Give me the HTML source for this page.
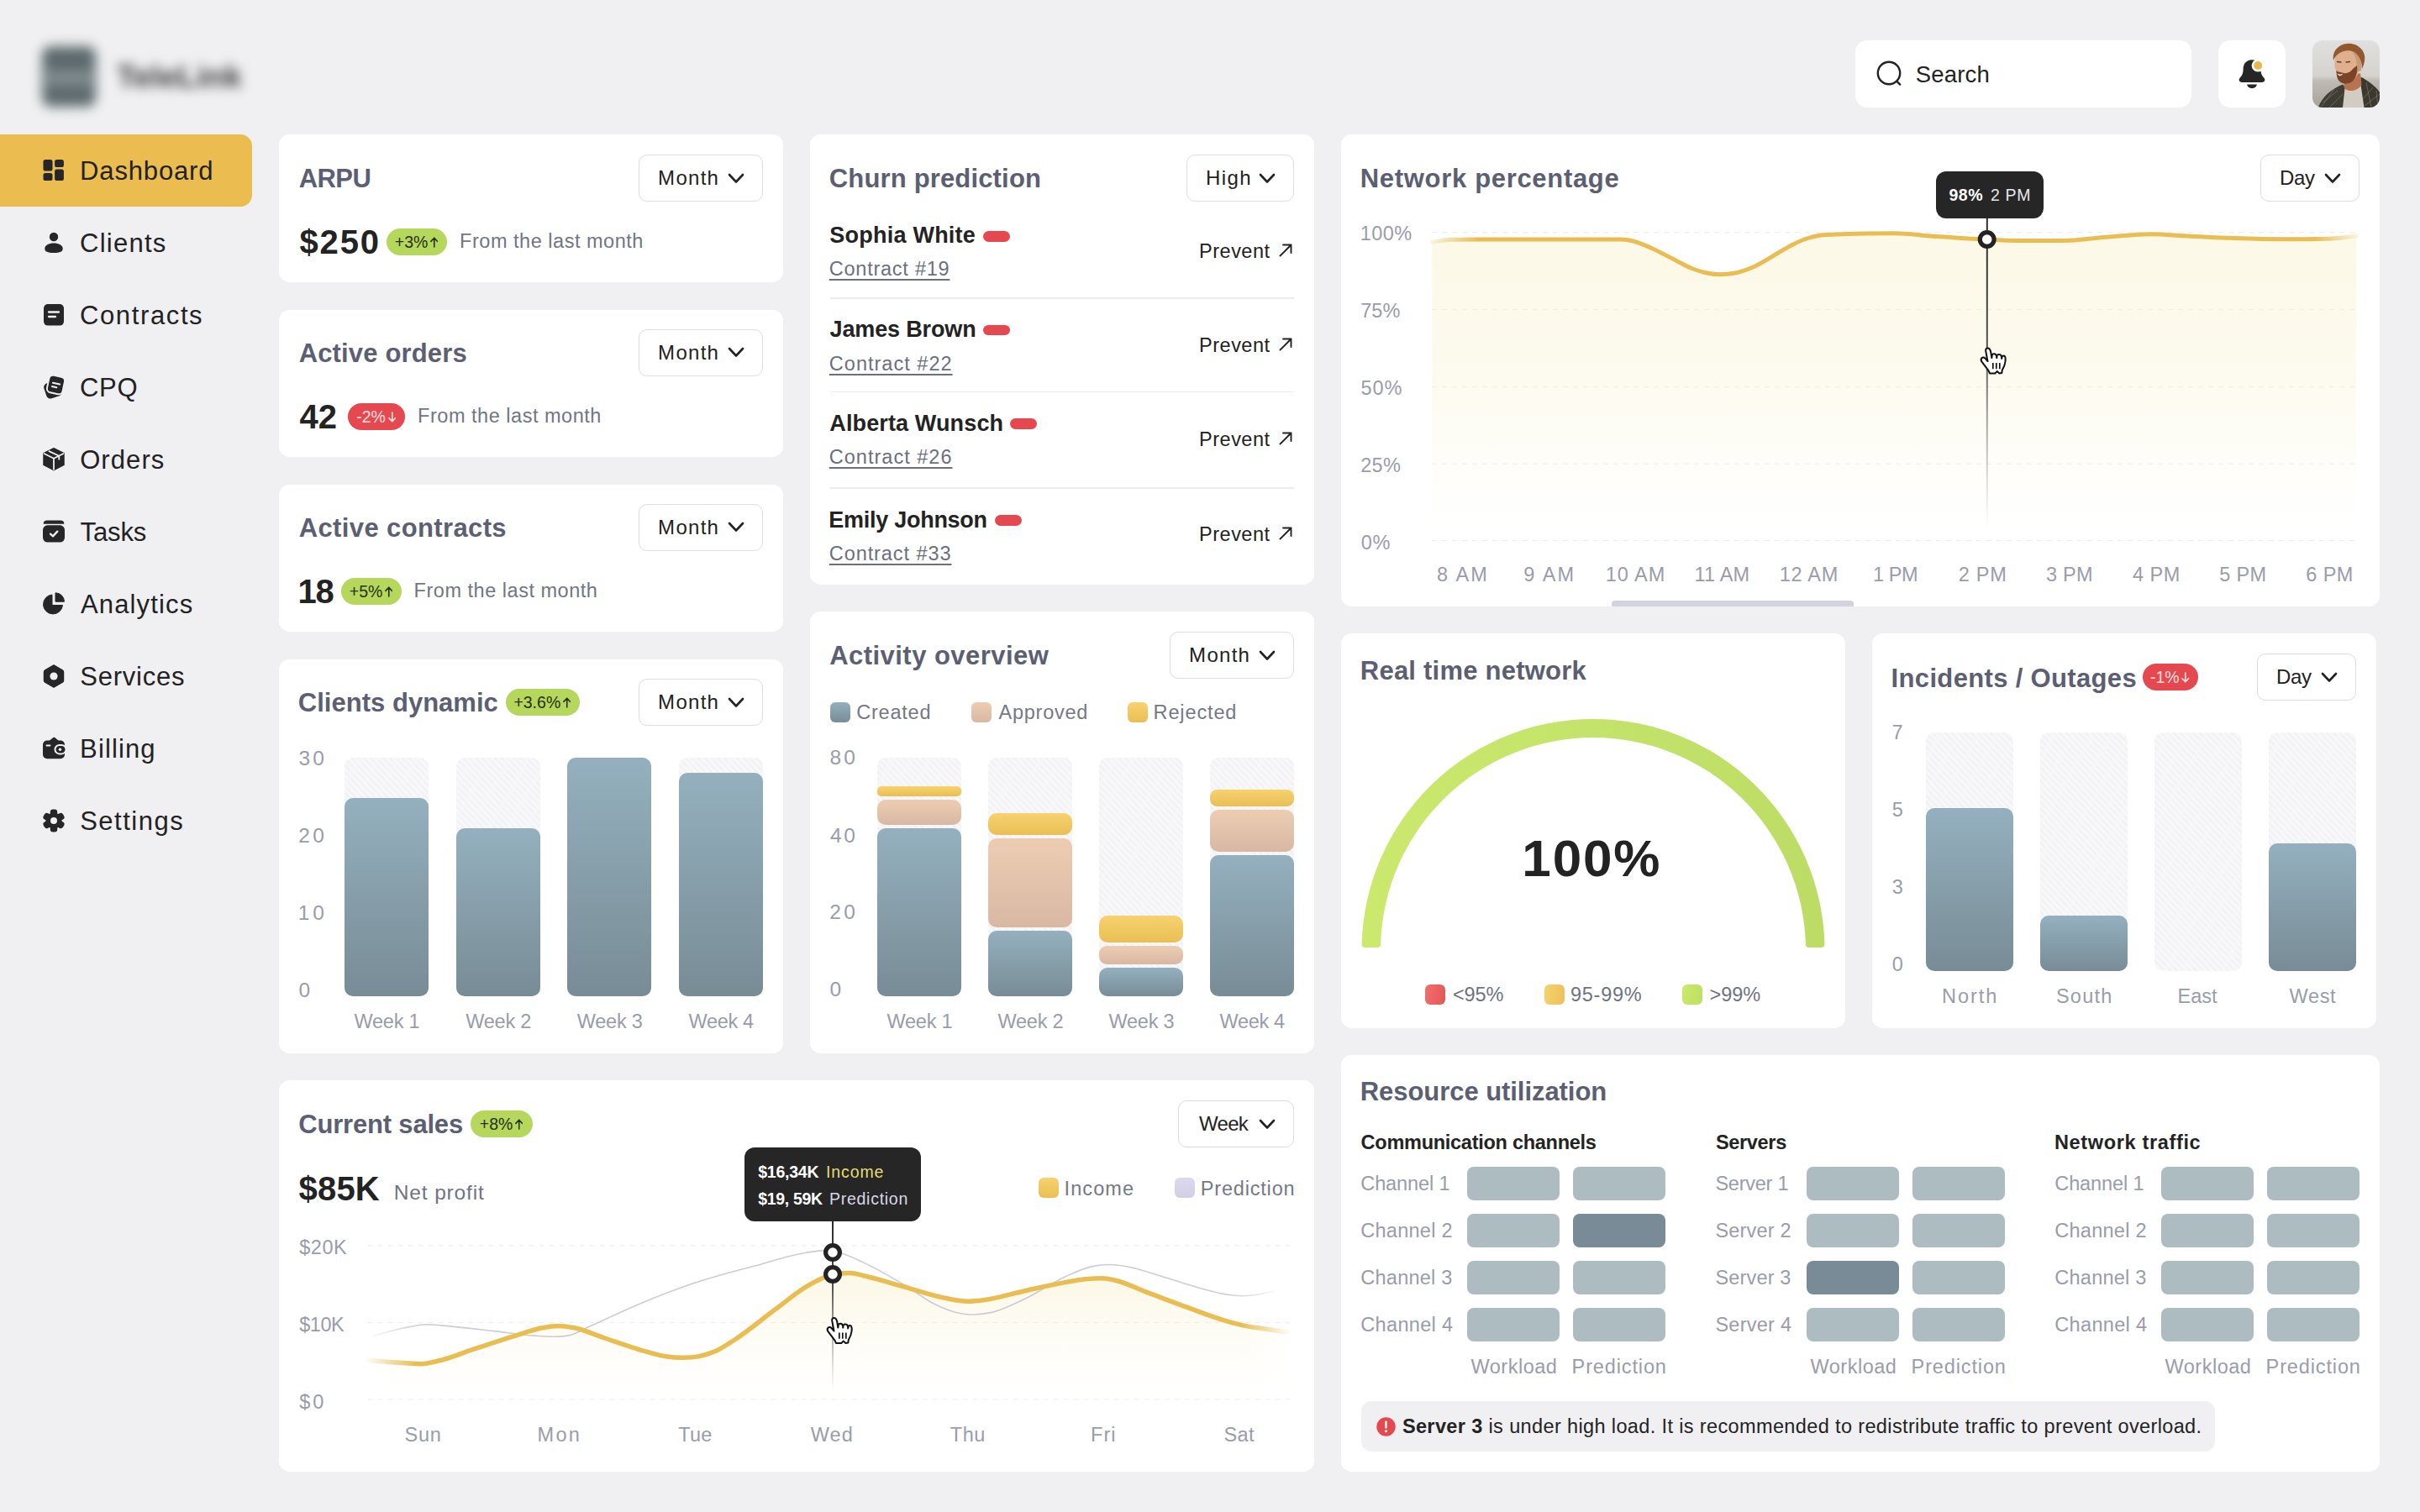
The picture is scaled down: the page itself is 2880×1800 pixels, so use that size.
<!DOCTYPE html>
<html lang="en"><head><meta charset="utf-8"><title>Dashboard</title>
<style>
html,body{margin:0;padding:0}
body{width:2880px;height:1800px;background:#f0f0f2;position:relative;overflow:hidden;font-family:"Liberation Sans",sans-serif;}
.t{position:absolute;line-height:1;white-space:nowrap;}
svg{display:block}
</style></head><body>
<svg width="0" height="0" style="position:absolute"><defs>
<linearGradient id="gBlue" x1="0" y1="0" x2="0" y2="1"><stop offset="0" stop-color="#94b0be"/><stop offset="1" stop-color="#788c96"/></linearGradient>
</defs></svg>
<div style="position:absolute;left:40px;top:44px;width:84px;height:92px;filter:blur(7px)"><div style="position:absolute;left:9px;top:10px;width:66px;height:74px;border-radius:12px;background:#7f8a8d"></div><div style="position:absolute;left:13px;top:15px;width:58px;height:24px;border-radius:6px;background:#5c686c"></div><div style="position:absolute;left:13px;top:58px;width:58px;height:22px;border-radius:6px;background:#5e6a6e"></div></div>
<div class="t" style="left:139px;top:72.5px;font-size:37px;font-weight:700;color:#3a3a3e;filter:blur(7px);letter-spacing:0.2px;padding:14px;margin:-14px">TeleLink</div>
<div style="position:absolute;left:2208.0px;top:48.0px;width:400.0px;height:80.0px;background:#fff;border-radius:14px;"></div>
<svg style="position:absolute;left:2230px;top:69px" width="38" height="38" viewBox="0 0 38 38"><circle cx="18" cy="18" r="13.2" fill="none" stroke="#222" stroke-width="2.4"/><path d="M27.3 27.6 L31.2 31.6" stroke="#222" stroke-width="2.4" stroke-linecap="round"/></svg>
<div class="t" style="left:2279.8px;top:74.7px;font-size:27.5px;color:#222;letter-spacing:0.17px;">Search</div>
<div style="position:absolute;left:2640.0px;top:48.0px;width:80.0px;height:80.0px;background:#fff;border-radius:14px;"></div>
<svg style="position:absolute;left:2660px;top:66px" width="40" height="44" viewBox="0 0 40 44">
<path d="M20 5.2 C12.5 5.2 9.6 11 9.6 16.5 C9.6 21.5 8 24 5.6 26.8 C3.6 29.2 5 32 8.2 32 L31.8 32 C35 32 36.4 29.2 34.4 26.8 C32 24 30.4 21.5 30.4 16.5 C30.4 11 27.5 5.2 20 5.2 Z" fill="#262626"/>
<path d="M14 34.6 L26 34.6 Q24.6 39.2 20 39.2 Q15.4 39.2 14 34.6 Z" fill="#262626"/>
<circle cx="27.2" cy="12" r="7.6" fill="#fff"/><circle cx="27.2" cy="12" r="5" fill="#e6b94a"/></svg>
<svg style="position:absolute;left:2752px;top:48px" width="80" height="80" viewBox="0 0 80 80">
<defs><clipPath id="avc"><rect width="80" height="80" rx="12"/></clipPath>
<linearGradient id="avbg" x1="0" y1="0" x2="0" y2="1"><stop offset="0" stop-color="#dfe0df"/><stop offset="0.53" stop-color="#d6d3ce"/><stop offset="0.6" stop-color="#bfbbb5"/><stop offset="1" stop-color="#a9a398"/></linearGradient></defs>
<g clip-path="url(#avc)"><rect width="80" height="80" fill="url(#avbg)"/>
<path d="M7 80 C11 68 22 58 36 52.500 L41 58 L37 80 Z" fill="#403d34"/>
<path d="M57.500 43.500 C66 48 78 56 82 66 L82 80 L60 80 L56 56 Z" fill="#3b392f"/>
<path d="M36 80 L38.500 57 C44 62 52 60 57.500 53 L61.500 80 Z" fill="#d3ccc2"/>
<path d="M37 45 L57 39 L58.500 53.500 C52 61 43 62 38 57 Z" fill="#b8744e"/>
<path d="M27 22 C27 12 36 8 46 10 C54 12 58 22 56 34 C54 44 48 50 40 50 C33 50 29 44 28 36 C26 32 26 27 27 22 Z" fill="#e0b08e"/>
<path d="M46 12 C54 14 60 22 58 36 L52 38 C54 28 52 18 46 12 Z" fill="#c49a7a"/>
<path d="M28.500 36 C30 37 32 38 34 38 C38 40 44 40 48 34 L53 30 C54 38 52 46 46 50 C40 53 33 52 30 46 C29 43 28.500 40 28.500 36 Z" fill="#7a4526"/>
<path d="M29.500 39 C31.500 41 34.500 41 36.500 39.500 C34.500 43 31 43.500 29.500 39 Z" fill="#f3e9e0"/>
<path d="M25 24 C23 14 30 5 41 4 C50 3 60 8 62 18 C63 24 61 30 59 34 C59 26 56 18 50 14 C44 11 36 12 31 16 C28 18 26 21 25 24 Z" fill="#93582f"/>
<path d="M29.500 25.500 L34 26 M40 26 L44.500 25.500" stroke="#5a3a26" stroke-width="1.300" stroke-linecap="round"/>
<path d="M12 74 L30 60 M20 80 L36 64 M10 80 L26 58 M64 50 L70 80 M72 56 L60 70 M80 64 L62 78 M76 60 L78 80" stroke="#8d8a78" stroke-width="1" opacity="0.55" fill="none"/>
</g></svg>
<div style="position:absolute;left:0.0px;top:160.0px;width:300.0px;height:86.0px;background:#ebbd50;border-radius:0 14px 14px 0;"></div>
<svg style="position:absolute;left:50px;top:189px" width="28" height="28" viewBox="0 0 27 28" fill="#262626"><rect x="1" y="1" width="11" height="13.5" rx="2.6"/><rect x="14.6" y="1" width="10.8" height="9" rx="2.6"/><rect x="1" y="17" width="11" height="9" rx="2.6"/><rect x="14.6" y="12.6" width="10.8" height="13.4" rx="2.6"/></svg>
<div class="t" style="left:95.1px;top:188.4px;font-size:31px;color:#222;letter-spacing:0.84px;">Dashboard</div>
<svg style="position:absolute;left:50px;top:275px" width="28" height="28" viewBox="0 0 27 28" fill="#262626"><circle cx="13.5" cy="7" r="5.2"/><path d="M13.500 14.600 C 7.500 14.600 2.800 17.200 2.800 21.000 C 2.800 24.600 6.000 26.000 13.500 26.000 C 21.000 26.000 24.200 24.600 24.200 21.000 C 24.200 17.200 19.500 14.600 13.500 14.600 Z"/></svg>
<div class="t" style="left:95.0px;top:274.4px;font-size:31px;color:#222;letter-spacing:1.25px;">Clients</div>
<svg style="position:absolute;left:50px;top:361px" width="28" height="28" viewBox="0 0 27 28" fill="#262626"><rect x="1.5" y="1" width="24" height="25.6" rx="5"/><path d="M7.500 10.500 L19.500 10.500 M7.500 16.000 L15.500 16.000" stroke="#f0f0f2" stroke-width="2.300" stroke-linecap="round"/></svg>
<div class="t" style="left:95.0px;top:360.4px;font-size:31px;color:#222;letter-spacing:1.62px;">Contracts</div>
<svg style="position:absolute;left:50px;top:447px" width="28" height="28" viewBox="0 0 27 28" fill="#262626"><g transform="rotate(-18 13 14)"><rect x="2" y="7" width="19" height="19" rx="5"/></g><g transform="rotate(12 16 11)"><rect x="6.5" y="0.5" width="19" height="21" rx="5" stroke="#f0f0f2" stroke-width="2"/><path d="M12 9.500 L20.500 9.500 M12 14 L17.500 14" stroke="#f0f0f2" stroke-width="2" stroke-linecap="round"/></g></svg>
<div class="t" style="left:95.0px;top:446.4px;font-size:31px;color:#222;letter-spacing:0.66px;">CPQ</div>
<svg style="position:absolute;left:50px;top:533px" width="28" height="28" viewBox="0 0 27 28" fill="#262626"><path d="M13.500 0.800 L25.500 6.600 L25.500 20.400 L13.500 26.600 L1.500 20.400 L1.500 6.600 Z" stroke="#262626" stroke-width="1.5" stroke-linejoin="round"/><path d="M1.500 6.800 L13.500 12.800 L25.500 6.800 M13.500 12.800 L13.500 26.500 M7.300 3.900 L19.800 9.800 L19.800 14.500" fill="none" stroke="#f0f0f2" stroke-width="1.800" stroke-linejoin="round"/></svg>
<div class="t" style="left:95.2px;top:532.4px;font-size:31px;color:#222;letter-spacing:1.07px;">Orders</div>
<svg style="position:absolute;left:50px;top:619px" width="28" height="28" viewBox="0 0 27 28" fill="#262626"><path d="M5.500 0.600 L21.500 0.600 Q 25.700 0.600 25.900 4.700 L1.100 4.700 Q 1.300 0.600 5.500 0.600 Z"/><rect x="0.5" y="6.3" width="26" height="20.3" rx="5.5"/><path d="M9.500 16.600 L12.500 19.400 L17.800 13.600" fill="none" stroke="#f0f0f2" stroke-width="2.300" stroke-linecap="round" stroke-linejoin="round"/></svg>
<div class="t" style="left:95.6px;top:618.4px;font-size:31px;color:#222;letter-spacing:-0.12px;">Tasks</div>
<svg style="position:absolute;left:50px;top:705px" width="28" height="28" viewBox="0 0 27 28" fill="#262626"><path d="M11.500 3.000 A 11.500 11.500 0 1 0 24.000 15.500 L11.500 15.500 Z" stroke="#262626" stroke-width="1" stroke-linejoin="round"/><path d="M15.500 0.800 A 10.500 10.500 0 0 1 26.000 11.200 L15.500 11.200 Z" stroke="#262626" stroke-width="1" stroke-linejoin="round"/></svg>
<div class="t" style="left:96.0px;top:704.4px;font-size:31px;color:#222;letter-spacing:1.14px;">Analytics</div>
<svg style="position:absolute;left:50px;top:791px" width="28" height="28" viewBox="0 0 27 28" fill="#262626"><path d="M13.500 1.000 L23.800 6.800 Q 25.000 7.500 25.000 9.000 L25.000 19.000 Q 25.000 20.500 23.800 21.200 L13.500 27.000 L3.200 21.200 Q 2.000 20.500 2.000 19.000 L2.000 9.000 Q 2.000 7.500 3.200 6.800 Z" stroke="#262626" stroke-width="1.500" stroke-linejoin="round"/><circle cx="13.5" cy="14" r="4.6" fill="#f0f0f2"/></svg>
<div class="t" style="left:95.2px;top:790.4px;font-size:31px;color:#222;letter-spacing:0.77px;">Services</div>
<svg style="position:absolute;left:50px;top:877px" width="28" height="28" viewBox="0 0 27 28" fill="#262626"><path d="M8.000 5.000 L12.800 1.000 Q 13.800 0.400 14.800 1.000 L19.500 5.000 Z"/><rect x="0.5" y="4.6" width="26" height="21.6" rx="5"/><path d="M5.000 10.500 L9.000 10.500" stroke="#f0f0f2" stroke-width="2" stroke-linecap="round"/><rect x="15" y="10" width="13" height="10.400" rx="5.200" fill="#262626" stroke="#f0f0f2" stroke-width="2"/><circle cx="21" cy="15.2" r="1.7" fill="#f0f0f2"/></svg>
<div class="t" style="left:95.1px;top:876.4px;font-size:31px;color:#222;letter-spacing:1.12px;">Billing</div>
<svg style="position:absolute;left:50px;top:963px" width="28" height="28" viewBox="0 0 27 28" fill="#262626"><g transform="translate(13.5 14)"><g id="gt"><rect x="-4.2" y="-13.4" width="8.4" height="9" rx="3.2"/></g><use href="#gt" transform="rotate(60)"/><use href="#gt" transform="rotate(120)"/><use href="#gt" transform="rotate(180)"/><use href="#gt" transform="rotate(240)"/><use href="#gt" transform="rotate(300)"/><circle r="9.6"/><circle r="4" fill="#f0f0f2"/></g></svg>
<div class="t" style="left:95.2px;top:962.4px;font-size:31px;color:#222;letter-spacing:1.49px;">Settings</div>
<div style="position:absolute;left:332.0px;top:160.0px;width:600.0px;height:176.0px;background:#fff;border-radius:12.5px;"></div>
<div class="t" style="left:355.7px;top:197.1px;font-size:31px;color:#5c5f73;font-weight:700;letter-spacing:-0.58px;">ARPU</div>
<div style="position:absolute;left:760.0px;top:184.0px;width:148.0px;height:56.0px;border:1.5px solid #dddde2;border-radius:10px;box-sizing:border-box;background:#fff;"></div>
<div class="t" style="left:783.1px;top:199.9px;font-size:24px;color:#222;letter-spacing:1.29px;">Month</div>
<svg style="position:absolute;left:866px;top:205.5px" width="20" height="13" viewBox="0 0 20 13"><path d="M2 2 L10 10.5 L18 2" fill="none" stroke="#222" stroke-width="2.6" stroke-linecap="round" stroke-linejoin="round"/></svg>
<div class="t" style="left:356.6px;top:268.2px;font-size:40px;color:#232323;font-weight:700;letter-spacing:1.77px;">$250</div>
<div style="position:absolute;left:460.0px;top:272.0px;width:72.0px;height:32.0px;background:#b5d75b;border-radius:16.0px;"></div>
<div class="t" style="left:469.8px;top:279.3px;font-size:19.5px;color:#26320c;">+3%</div>
<svg style="position:absolute;left:511.9px;top:282.3px" width="9.5" height="13" viewBox="0 0 9.5 13"><path d="M4.75 12 L4.75 1.2 M0.9 5.4 L4.75 1.2 L8.6 5.4" fill="none" stroke="#26320c" stroke-width="1.6" stroke-linecap="round" stroke-linejoin="round"/></svg>
<div class="t" style="left:547.1px;top:275.7px;font-size:23.5px;color:#717584;letter-spacing:0.52px;">From the last month</div>
<div style="position:absolute;left:332.0px;top:369.0px;width:600.0px;height:175.0px;background:#fff;border-radius:12.5px;"></div>
<div class="t" style="left:355.7px;top:404.9px;font-size:31px;color:#5c5f73;font-weight:700;letter-spacing:0.15px;">Active orders</div>
<div style="position:absolute;left:760.0px;top:391.8px;width:148.0px;height:56.0px;border:1.5px solid #dddde2;border-radius:10px;box-sizing:border-box;background:#fff;"></div>
<div class="t" style="left:783.1px;top:407.7px;font-size:24px;color:#222;letter-spacing:1.29px;">Month</div>
<svg style="position:absolute;left:866px;top:413.3px" width="20" height="13" viewBox="0 0 20 13"><path d="M2 2 L10 10.5 L18 2" fill="none" stroke="#222" stroke-width="2.6" stroke-linecap="round" stroke-linejoin="round"/></svg>
<div class="t" style="left:356.4px;top:476.0px;font-size:40px;color:#232323;font-weight:700;">42</div>
<div style="position:absolute;left:414.0px;top:479.8px;width:68.0px;height:32.0px;background:#e5484f;border-radius:16.0px;"></div>
<div class="t" style="left:424.2px;top:487.1px;font-size:19.5px;color:#ffe0e0;">-2%</div>
<svg style="position:absolute;left:461.5px;top:490.1px" width="9.5" height="13" viewBox="0 0 9.5 13"><path d="M4.75 1 L4.75 11.8 M0.9 7.6 L4.75 11.8 L8.6 7.6" fill="none" stroke="#ffe0e0" stroke-width="1.6" stroke-linecap="round" stroke-linejoin="round"/></svg>
<div class="t" style="left:497.1px;top:483.5px;font-size:23.5px;color:#717584;letter-spacing:0.52px;">From the last month</div>
<div style="position:absolute;left:332.0px;top:577.0px;width:600.0px;height:175.0px;background:#fff;border-radius:12.5px;"></div>
<div class="t" style="left:355.7px;top:612.9px;font-size:31px;color:#5c5f73;font-weight:700;letter-spacing:0.38px;">Active contracts</div>
<div style="position:absolute;left:760.0px;top:599.8px;width:148.0px;height:56.0px;border:1.5px solid #dddde2;border-radius:10px;box-sizing:border-box;background:#fff;"></div>
<div class="t" style="left:783.1px;top:615.7px;font-size:24px;color:#222;letter-spacing:1.29px;">Month</div>
<svg style="position:absolute;left:866px;top:621.3px" width="20" height="13" viewBox="0 0 20 13"><path d="M2 2 L10 10.5 L18 2" fill="none" stroke="#222" stroke-width="2.6" stroke-linecap="round" stroke-linejoin="round"/></svg>
<div class="t" style="left:354.6px;top:684.0px;font-size:40px;color:#232323;font-weight:700;letter-spacing:-1.40px;">18</div>
<div style="position:absolute;left:406.0px;top:687.8px;width:72.0px;height:32.0px;background:#b5d75b;border-radius:16.0px;"></div>
<div class="t" style="left:415.8px;top:695.1px;font-size:19.5px;color:#26320c;">+5%</div>
<svg style="position:absolute;left:457.9px;top:698.1px" width="9.5" height="13" viewBox="0 0 9.5 13"><path d="M4.75 12 L4.75 1.2 M0.9 5.4 L4.75 1.2 L8.6 5.4" fill="none" stroke="#26320c" stroke-width="1.6" stroke-linecap="round" stroke-linejoin="round"/></svg>
<div class="t" style="left:492.6px;top:691.5px;font-size:23.5px;color:#717584;letter-spacing:0.52px;">From the last month</div>
<svg width="0" height="0" style="position:absolute"><defs>
<pattern id="hatch" width="7" height="7" patternUnits="userSpaceOnUse" patternTransform="rotate(-35)"><rect width="7" height="7" fill="#f6f6f8"/><line x1="0" y1="3.5" x2="7" y2="3.5" stroke="#ececef" stroke-width="1.2"/></pattern>
</defs></svg>
<div style="position:absolute;left:332.0px;top:785.0px;width:600.0px;height:469.0px;background:#fff;border-radius:12.5px;"></div>
<div class="t" style="left:354.8px;top:821.4px;font-size:31px;color:#5c5f73;font-weight:700;letter-spacing:0.02px;">Clients dynamic</div>
<div style="position:absolute;left:602.0px;top:820.0px;width:87.5px;height:32.0px;background:#b5d75b;border-radius:16.0px;"></div>
<div class="t" style="left:611.4px;top:827.3px;font-size:19.5px;color:#26320c;">+3.6%</div>
<svg style="position:absolute;left:669.8px;top:830.3px" width="9.5" height="13" viewBox="0 0 9.5 13"><path d="M4.75 12 L4.75 1.2 M0.9 5.4 L4.75 1.2 L8.6 5.4" fill="none" stroke="#26320c" stroke-width="1.6" stroke-linecap="round" stroke-linejoin="round"/></svg>
<div style="position:absolute;left:760.0px;top:808.0px;width:148.0px;height:56.0px;border:1.5px solid #dddde2;border-radius:10px;box-sizing:border-box;background:#fff;"></div>
<div class="t" style="left:783.1px;top:823.9px;font-size:24px;color:#222;letter-spacing:1.29px;">Month</div>
<svg style="position:absolute;left:866px;top:829.5px" width="20" height="13" viewBox="0 0 20 13"><path d="M2 2 L10 10.5 L18 2" fill="none" stroke="#222" stroke-width="2.6" stroke-linecap="round" stroke-linejoin="round"/></svg>
<div class="t" style="left:355.6px;top:890.6px;font-size:24.5px;color:#999cab;letter-spacing:2.97px;">30</div>
<div class="t" style="left:355.3px;top:982.6px;font-size:24.5px;color:#999cab;letter-spacing:3.34px;">20</div>
<div class="t" style="left:354.7px;top:1074.6px;font-size:24.5px;color:#999cab;letter-spacing:3.95px;">10</div>
<div class="t" style="left:355.6px;top:1166.6px;font-size:24.5px;color:#999cab;">0</div>
<div style="position:absolute;left:410.0px;top:902.0px;width:100.0px;height:284.0px;border-radius:10px;background:repeating-linear-gradient(47deg,#f7f7f9 0 2.6px,#f0f0f3 2.6px 3.8px,#f7f7f9 3.8px 5.6px);"></div>
<div style="position:absolute;left:410.0px;top:950.0px;width:100.0px;height:236.0px;border-radius:10px;background:linear-gradient(#94b0be,#788c96);"></div>
<div class="t" style="left:421.5px;top:1204.9px;font-size:23.5px;color:#999cab;letter-spacing:-0.23px;">Week 1</div>
<div style="position:absolute;left:542.7px;top:902.0px;width:100.0px;height:284.0px;border-radius:10px;background:repeating-linear-gradient(47deg,#f7f7f9 0 2.6px,#f0f0f3 2.6px 3.8px,#f7f7f9 3.8px 5.6px);"></div>
<div style="position:absolute;left:542.7px;top:985.7px;width:100.0px;height:200.3px;border-radius:10px;background:linear-gradient(#94b0be,#788c96);"></div>
<div class="t" style="left:554.2px;top:1204.9px;font-size:23.5px;color:#999cab;letter-spacing:-0.23px;">Week 2</div>
<div style="position:absolute;left:675.3px;top:902.0px;width:100.0px;height:284.0px;border-radius:10px;background:repeating-linear-gradient(47deg,#f7f7f9 0 2.6px,#f0f0f3 2.6px 3.8px,#f7f7f9 3.8px 5.6px);"></div>
<div style="position:absolute;left:675.3px;top:902.0px;width:100.0px;height:284.0px;border-radius:10px;background:linear-gradient(#94b0be,#788c96);"></div>
<div class="t" style="left:686.8px;top:1204.9px;font-size:23.5px;color:#999cab;letter-spacing:-0.25px;">Week 3</div>
<div style="position:absolute;left:808.0px;top:902.0px;width:100.0px;height:284.0px;border-radius:10px;background:repeating-linear-gradient(47deg,#f7f7f9 0 2.6px,#f0f0f3 2.6px 3.8px,#f7f7f9 3.8px 5.6px);"></div>
<div style="position:absolute;left:808.0px;top:920.0px;width:100.0px;height:266.0px;border-radius:10px;background:linear-gradient(#94b0be,#788c96);"></div>
<div class="t" style="left:819.5px;top:1204.9px;font-size:23.5px;color:#999cab;letter-spacing:-0.32px;">Week 4</div>
<div style="position:absolute;left:964.0px;top:160.0px;width:600.0px;height:536.0px;background:#fff;border-radius:12.5px;"></div>
<div class="t" style="left:986.8px;top:196.9px;font-size:31px;color:#5c5f73;font-weight:700;letter-spacing:0.16px;">Churn prediction</div>
<div style="position:absolute;left:1412.0px;top:184.0px;width:128.0px;height:56.0px;border:1.5px solid #dddde2;border-radius:10px;box-sizing:border-box;background:#fff;"></div>
<div class="t" style="left:1435.1px;top:199.9px;font-size:24px;color:#222;letter-spacing:1.35px;">High</div>
<svg style="position:absolute;left:1498px;top:205.5px" width="20" height="13" viewBox="0 0 20 13"><path d="M2 2 L10 10.5 L18 2" fill="none" stroke="#222" stroke-width="2.6" stroke-linecap="round" stroke-linejoin="round"/></svg>
<div class="t" style="left:987.3px;top:267.3px;font-size:27px;color:#232323;font-weight:700;letter-spacing:0.23px;">Sophia White</div>
<div style="position:absolute;left:1170.0px;top:275.0px;width:32.0px;height:12.5px;background:#e5484f;border-radius:6.5px;"></div>
<div class="t" style="left:986.8px;top:309.4px;font-size:23.5px;color:#6b6f80;letter-spacing:0.75px;text-decoration:underline;text-decoration-thickness:1.5px;text-underline-offset:4px;">Contract #19</div>
<div class="t" style="left:1427.1px;top:287.7px;font-size:23.5px;color:#222;letter-spacing:0.49px;">Prevent</div>
<svg style="position:absolute;left:1521px;top:288.5px" width="18" height="18" viewBox="0 0 18 18"><path d="M2.5 15.5 L15.5 2.5 M6 2.5 L15.5 2.5 L15.5 12" fill="none" stroke="#222" stroke-width="1.9" stroke-linecap="round" stroke-linejoin="round"/></svg>
<div class="t" style="left:987.6px;top:379.2px;font-size:27px;color:#232323;font-weight:700;letter-spacing:-0.15px;">James Brown</div>
<div style="position:absolute;left:1170.0px;top:386.9px;width:32.0px;height:12.5px;background:#e5484f;border-radius:6.5px;"></div>
<div class="t" style="left:986.8px;top:421.7px;font-size:23.5px;color:#6b6f80;letter-spacing:1.02px;text-decoration:underline;text-decoration-thickness:1.5px;text-underline-offset:4px;">Contract #22</div>
<div class="t" style="left:1427.1px;top:399.7px;font-size:23.5px;color:#222;letter-spacing:0.49px;">Prevent</div>
<svg style="position:absolute;left:1521px;top:400.5px" width="18" height="18" viewBox="0 0 18 18"><path d="M2.5 15.5 L15.5 2.5 M6 2.5 L15.5 2.5 L15.5 12" fill="none" stroke="#222" stroke-width="1.9" stroke-linecap="round" stroke-linejoin="round"/></svg>
<div class="t" style="left:987.3px;top:490.7px;font-size:27px;color:#232323;font-weight:700;letter-spacing:0.13px;">Alberta Wunsch</div>
<div style="position:absolute;left:1202.0px;top:498.4px;width:32.0px;height:12.5px;background:#e5484f;border-radius:6.5px;"></div>
<div class="t" style="left:986.8px;top:533.3px;font-size:23.5px;color:#6b6f80;letter-spacing:1.01px;text-decoration:underline;text-decoration-thickness:1.5px;text-underline-offset:4px;">Contract #26</div>
<div class="t" style="left:1427.1px;top:511.7px;font-size:23.5px;color:#222;letter-spacing:0.49px;">Prevent</div>
<svg style="position:absolute;left:1521px;top:512.5px" width="18" height="18" viewBox="0 0 18 18"><path d="M2.5 15.5 L15.5 2.5 M6 2.5 L15.5 2.5 L15.5 12" fill="none" stroke="#222" stroke-width="1.9" stroke-linecap="round" stroke-linejoin="round"/></svg>
<div class="t" style="left:986.2px;top:605.5px;font-size:27px;color:#232323;font-weight:700;letter-spacing:-0.26px;">Emily Johnson</div>
<div style="position:absolute;left:1184.0px;top:613.2px;width:32.0px;height:12.5px;background:#e5484f;border-radius:6.5px;"></div>
<div class="t" style="left:986.8px;top:647.7px;font-size:23.5px;color:#6b6f80;letter-spacing:0.92px;text-decoration:underline;text-decoration-thickness:1.5px;text-underline-offset:4px;">Contract #33</div>
<div class="t" style="left:1427.1px;top:625.4px;font-size:23.5px;color:#222;letter-spacing:0.49px;">Prevent</div>
<svg style="position:absolute;left:1521px;top:626.2px" width="18" height="18" viewBox="0 0 18 18"><path d="M2.5 15.5 L15.5 2.5 M6 2.5 L15.5 2.5 L15.5 12" fill="none" stroke="#222" stroke-width="1.9" stroke-linecap="round" stroke-linejoin="round"/></svg>
<div style="position:absolute;left:988.0px;top:354.2px;width:552.0px;height:1.5px;background:#ececef;"></div>
<div style="position:absolute;left:988.0px;top:465.9px;width:552.0px;height:1.5px;background:#ececef;"></div>
<div style="position:absolute;left:988.0px;top:580.2px;width:552.0px;height:1.5px;background:#ececef;"></div>
<div style="position:absolute;left:964.0px;top:728.0px;width:600.0px;height:526.0px;background:#fff;border-radius:12.5px;"></div>
<div class="t" style="left:987.2px;top:765.4px;font-size:31px;color:#5c5f73;font-weight:700;letter-spacing:0.46px;">Activity overview</div>
<div style="position:absolute;left:1392.0px;top:752.0px;width:148.0px;height:56.0px;border:1.5px solid #dddde2;border-radius:10px;box-sizing:border-box;background:#fff;"></div>
<div class="t" style="left:1415.1px;top:767.9px;font-size:24px;color:#222;letter-spacing:1.29px;">Month</div>
<svg style="position:absolute;left:1498px;top:773.5px" width="20" height="13" viewBox="0 0 20 13"><path d="M2 2 L10 10.5 L18 2" fill="none" stroke="#222" stroke-width="2.6" stroke-linecap="round" stroke-linejoin="round"/></svg>
<div style="position:absolute;left:988.0px;top:836.0px;width:24.0px;height:24.0px;border-radius:6px;background:linear-gradient(#94b0be,#788c96);"></div>
<div class="t" style="left:1019.3px;top:837.2px;font-size:23.5px;color:#747887;letter-spacing:0.76px;">Created</div>
<div style="position:absolute;left:1156.0px;top:836.0px;width:24.0px;height:24.0px;border-radius:6px;background:linear-gradient(#edcdb2,#d8b8a3);"></div>
<div class="t" style="left:1188.5px;top:837.2px;font-size:23.5px;color:#747887;letter-spacing:0.76px;">Approved</div>
<div style="position:absolute;left:1342.0px;top:836.0px;width:24.0px;height:24.0px;border-radius:6px;background:linear-gradient(#f7d26f,#e9be55);"></div>
<div class="t" style="left:1372.6px;top:837.2px;font-size:23.5px;color:#747887;letter-spacing:0.87px;">Rejected</div>
<div class="t" style="left:987.5px;top:889.6px;font-size:24.5px;color:#999cab;letter-spacing:3.09px;">80</div>
<div class="t" style="left:988.0px;top:982.6px;font-size:24.5px;color:#999cab;letter-spacing:2.60px;">40</div>
<div class="t" style="left:987.3px;top:1074.1px;font-size:24.5px;color:#999cab;letter-spacing:3.34px;">20</div>
<div class="t" style="left:987.6px;top:1166.1px;font-size:24.5px;color:#999cab;">0</div>
<div style="position:absolute;left:1044.0px;top:902.0px;width:100.0px;height:284.0px;border-radius:10px;background:repeating-linear-gradient(47deg,#f7f7f9 0 2.6px,#f0f0f3 2.6px 3.8px,#f7f7f9 3.8px 5.6px);"></div>
<div style="position:absolute;left:1044.0px;top:985.7px;width:100.0px;height:200.3px;border-radius:10px;background:linear-gradient(#94b0be,#788c96);"></div>
<div style="position:absolute;left:1044.0px;top:952.0px;width:100.0px;height:30.0px;border-radius:10px;background:linear-gradient(#edcdb2,#d8b8a3);"></div>
<div style="position:absolute;left:1044.0px;top:935.8px;width:100.0px;height:12.0px;border-radius:5px;background:linear-gradient(#f7d26f,#e9be55);"></div>
<div class="t" style="left:1055.5px;top:1205.0px;font-size:23.5px;color:#999cab;letter-spacing:-0.23px;">Week 1</div>
<div style="position:absolute;left:1176.0px;top:902.0px;width:100.0px;height:284.0px;border-radius:10px;background:repeating-linear-gradient(47deg,#f7f7f9 0 2.6px,#f0f0f3 2.6px 3.8px,#f7f7f9 3.8px 5.6px);"></div>
<div style="position:absolute;left:1176.0px;top:1108.0px;width:100.0px;height:78.0px;border-radius:10px;background:linear-gradient(#94b0be,#788c96);"></div>
<div style="position:absolute;left:1176.0px;top:998.0px;width:100.0px;height:106.0px;border-radius:10px;background:linear-gradient(#edcdb2,#d8b8a3);"></div>
<div style="position:absolute;left:1176.0px;top:968.0px;width:100.0px;height:26.0px;border-radius:10px;background:linear-gradient(#f7d26f,#e9be55);"></div>
<div class="t" style="left:1187.5px;top:1205.0px;font-size:23.5px;color:#999cab;letter-spacing:-0.23px;">Week 2</div>
<div style="position:absolute;left:1308.0px;top:902.0px;width:100.0px;height:284.0px;border-radius:10px;background:repeating-linear-gradient(47deg,#f7f7f9 0 2.6px,#f0f0f3 2.6px 3.8px,#f7f7f9 3.8px 5.6px);"></div>
<div style="position:absolute;left:1308.0px;top:1151.8px;width:100.0px;height:34.2px;border-radius:10px;background:linear-gradient(#94b0be,#788c96);"></div>
<div style="position:absolute;left:1308.0px;top:1125.7px;width:100.0px;height:22.0px;border-radius:9.166666666666668px;background:linear-gradient(#edcdb2,#d8b8a3);"></div>
<div style="position:absolute;left:1308.0px;top:1090.0px;width:100.0px;height:31.8px;border-radius:10px;background:linear-gradient(#f7d26f,#e9be55);"></div>
<div class="t" style="left:1319.5px;top:1205.0px;font-size:23.5px;color:#999cab;letter-spacing:-0.25px;">Week 3</div>
<div style="position:absolute;left:1440.0px;top:902.0px;width:100.0px;height:284.0px;border-radius:10px;background:repeating-linear-gradient(47deg,#f7f7f9 0 2.6px,#f0f0f3 2.6px 3.8px,#f7f7f9 3.8px 5.6px);"></div>
<div style="position:absolute;left:1440.0px;top:1018.0px;width:100.0px;height:168.0px;border-radius:10px;background:linear-gradient(#94b0be,#788c96);"></div>
<div style="position:absolute;left:1440.0px;top:964.0px;width:100.0px;height:49.8px;border-radius:10px;background:linear-gradient(#edcdb2,#d8b8a3);"></div>
<div style="position:absolute;left:1440.0px;top:940.0px;width:100.0px;height:20.0px;border-radius:8.333333333333334px;background:linear-gradient(#f7d26f,#e9be55);"></div>
<div class="t" style="left:1451.5px;top:1205.0px;font-size:23.5px;color:#999cab;letter-spacing:-0.32px;">Week 4</div>
<div style="position:absolute;left:1596.0px;top:160.0px;width:1235.6px;height:562.0px;background:#fff;border-radius:12.5px;"></div>
<div class="t" style="left:1618.8px;top:197.4px;font-size:31px;color:#5c5f73;font-weight:700;letter-spacing:0.68px;">Network percentage</div>
<div style="position:absolute;left:2690.0px;top:184.0px;width:118.0px;height:56.0px;border:1.5px solid #dddde2;border-radius:10px;box-sizing:border-box;background:#fff;"></div>
<div class="t" style="left:2713.1px;top:199.9px;font-size:24px;color:#222;letter-spacing:-0.40px;">Day</div>
<svg style="position:absolute;left:2766px;top:205.5px" width="20" height="13" viewBox="0 0 20 13"><path d="M2 2 L10 10.5 L18 2" fill="none" stroke="#222" stroke-width="2.6" stroke-linecap="round" stroke-linejoin="round"/></svg>
<div class="t" style="left:1618.7px;top:267.2px;font-size:23.5px;color:#999cab;letter-spacing:0.48px;">100%</div>
<div class="t" style="left:1619.3px;top:359.2px;font-size:23.5px;color:#999cab;">75%</div>
<div class="t" style="left:1619.6px;top:451.2px;font-size:23.5px;color:#999cab;letter-spacing:0.88px;">50%</div>
<div class="t" style="left:1619.3px;top:543.2px;font-size:23.5px;color:#999cab;letter-spacing:0.25px;">25%</div>
<div class="t" style="left:1619.7px;top:634.9px;font-size:23.5px;color:#999cab;letter-spacing:0.69px;">0%</div>
<div class="t" style="left:1710.1px;top:673.1px;font-size:23.5px;color:#999cab;letter-spacing:2.08px;">8 AM</div>
<div class="t" style="left:1813.2px;top:673.1px;font-size:23.5px;color:#999cab;letter-spacing:2.12px;">9 AM</div>
<div class="t" style="left:1910.7px;top:673.1px;font-size:23.5px;color:#999cab;letter-spacing:1.01px;">10 AM</div>
<div class="t" style="left:2016.5px;top:673.1px;font-size:23.5px;color:#999cab;letter-spacing:0.17px;">11 AM</div>
<div class="t" style="left:2117.7px;top:673.1px;font-size:23.5px;color:#999cab;letter-spacing:0.76px;">12 AM</div>
<div class="t" style="left:2229.0px;top:673.1px;font-size:23.5px;color:#999cab;letter-spacing:-0.41px;">1 PM</div>
<div class="t" style="left:2330.8px;top:673.1px;font-size:23.5px;color:#999cab;letter-spacing:0.73px;">2 PM</div>
<div class="t" style="left:2434.9px;top:673.1px;font-size:23.5px;color:#999cab;letter-spacing:0.28px;">3 PM</div>
<div class="t" style="left:2538.0px;top:673.1px;font-size:23.5px;color:#999cab;letter-spacing:0.49px;">4 PM</div>
<div class="t" style="left:2641.3px;top:673.1px;font-size:23.5px;color:#999cab;letter-spacing:0.32px;">5 PM</div>
<div class="t" style="left:2744.3px;top:673.1px;font-size:23.5px;color:#999cab;letter-spacing:0.39px;">6 PM</div>
<svg style="position:absolute;left:1596px;top:160px" width="1235" height="562" viewBox="1596 160 1235 562"><defs><linearGradient id="nfill" x1="0" y1="0" x2="0" y2="1"><stop offset="0" stop-color="#f5ecb8" stop-opacity="0.34"/><stop offset="0.45" stop-color="#f6eebf" stop-opacity="0.26"/><stop offset="0.8" stop-color="#f8f0cc" stop-opacity="0.1"/><stop offset="0.97" stop-color="#fbf6e4" stop-opacity="0"/></linearGradient>
<linearGradient id="nstroke" gradientUnits="userSpaceOnUse" x1="1704" y1="0" x2="2804" y2="0"><stop offset="0" stop-color="#e9bd52" stop-opacity="0.15"/><stop offset="0.05" stop-color="#e9bd52" stop-opacity="1"/><stop offset="0.955" stop-color="#e9bd52" stop-opacity="1"/><stop offset="1" stop-color="#e9bd52" stop-opacity="0.15"/></linearGradient>
<linearGradient id="vline" x1="0" y1="0" x2="0" y2="1"><stop offset="0" stop-color="#2a2a2a"/><stop offset="0.45" stop-color="#555"/><stop offset="1" stop-color="#999" stop-opacity="0"/></linearGradient></defs><line x1="1704" y1="276.7" x2="2804" y2="276.7" stroke="#ececef" stroke-width="1" stroke-dasharray="6 6"/><line x1="1704" y1="368.5" x2="2804" y2="368.5" stroke="#ececef" stroke-width="1" stroke-dasharray="6 6"/><line x1="1704" y1="460.4" x2="2804" y2="460.4" stroke="#ececef" stroke-width="1" stroke-dasharray="6 6"/><line x1="1704" y1="552.2" x2="2804" y2="552.2" stroke="#ececef" stroke-width="1" stroke-dasharray="6 6"/><line x1="1704" y1="643.6" x2="2804" y2="643.6" stroke="#ececef" stroke-width="1" stroke-dasharray="6 6"/><path d="M1704.4 287.9 C1711.6 287.03 1718.8 285.48 1726.0 285.3 C1738.0 285.00 1750.0 285.00 1762.0 285.0 C1791.3 285.00 1820.7 285.00 1850.0 285.0 C1876.6 285.00 1903.1 285.00 1929.7 285.0 C1934.5 285.00 1939.2 285.94 1944.0 287.1 C1951.2 288.85 1958.4 292.32 1965.6 295.5 C1973.6 299.03 1981.6 303.50 1989.6 307.5 C1997.6 311.50 2005.6 316.36 2013.6 319.5 C2019.2 321.68 2024.7 323.60 2030.3 324.8 C2035.9 326.01 2041.5 326.70 2047.1 326.7 C2052.7 326.70 2058.3 326.36 2063.9 325.3 C2071.1 323.94 2078.3 321.41 2085.5 318.3 C2093.5 314.86 2101.4 309.61 2109.4 305.1 C2117.4 300.57 2125.4 295.12 2133.4 291.2 C2139.0 288.45 2144.6 285.87 2150.2 284.0 C2155.8 282.14 2161.3 280.76 2166.9 280.0 C2175.7 278.80 2184.5 279.12 2193.3 278.8 C2213.7 278.05 2234.0 277.80 2254.4 277.8 C2269.6 277.80 2284.8 280.15 2300.0 281.2 C2321.5 282.69 2343.1 284.31 2364.6 285.2 C2379.0 285.80 2393.4 286.40 2407.8 286.4 C2423.8 286.40 2439.7 286.40 2455.7 286.4 C2471.7 286.40 2487.6 283.58 2503.6 282.4 C2522.8 280.98 2542.0 278.80 2561.2 278.8 C2574.0 278.80 2586.7 280.07 2599.5 280.7 C2619.5 281.68 2639.4 282.92 2659.4 283.6 C2679.4 284.28 2699.3 284.80 2719.3 284.8 C2735.3 284.80 2751.3 284.80 2767.3 284.3 C2775.3 284.05 2783.2 283.29 2791.2 282.4 C2795.6 281.91 2800.0 281.27 2804.4 280.7 L2804 643.6 L1704 643.6 Z" fill="url(#nfill)"/><path d="M1704.4 287.9 C1711.6 287.03 1718.8 285.48 1726.0 285.3 C1738.0 285.00 1750.0 285.00 1762.0 285.0 C1791.3 285.00 1820.7 285.00 1850.0 285.0 C1876.6 285.00 1903.1 285.00 1929.7 285.0 C1934.5 285.00 1939.2 285.94 1944.0 287.1 C1951.2 288.85 1958.4 292.32 1965.6 295.5 C1973.6 299.03 1981.6 303.50 1989.6 307.5 C1997.6 311.50 2005.6 316.36 2013.6 319.5 C2019.2 321.68 2024.7 323.60 2030.3 324.8 C2035.9 326.01 2041.5 326.70 2047.1 326.7 C2052.7 326.70 2058.3 326.36 2063.9 325.3 C2071.1 323.94 2078.3 321.41 2085.5 318.3 C2093.5 314.86 2101.4 309.61 2109.4 305.1 C2117.4 300.57 2125.4 295.12 2133.4 291.2 C2139.0 288.45 2144.6 285.87 2150.2 284.0 C2155.8 282.14 2161.3 280.76 2166.9 280.0 C2175.7 278.80 2184.5 279.12 2193.3 278.8 C2213.7 278.05 2234.0 277.80 2254.4 277.8 C2269.6 277.80 2284.8 280.15 2300.0 281.2 C2321.5 282.69 2343.1 284.31 2364.6 285.2 C2379.0 285.80 2393.4 286.40 2407.8 286.4 C2423.8 286.40 2439.7 286.40 2455.7 286.4 C2471.7 286.40 2487.6 283.58 2503.6 282.4 C2522.8 280.98 2542.0 278.80 2561.2 278.8 C2574.0 278.80 2586.7 280.07 2599.5 280.7 C2619.5 281.68 2639.4 282.92 2659.4 283.6 C2679.4 284.28 2699.3 284.80 2719.3 284.8 C2735.3 284.80 2751.3 284.80 2767.3 284.3 C2775.3 284.05 2783.2 283.29 2791.2 282.4 C2795.6 281.91 2800.0 281.27 2804.4 280.7" fill="none" stroke="url(#nstroke)" stroke-width="5" stroke-linecap="round" stroke-linejoin="round"/><rect x="2363.8" y="258" width="2" height="371" fill="url(#vline)"/><circle cx="2364.7" cy="285" r="8.4" fill="#fff" stroke="#232323" stroke-width="5.2"/><g transform="translate(2357 413.5) scale(1)"><path d="M8.5 0.9 C6.8 0.9 5.9 2.4 6.2 4.2 L8.5 16.6 L5.3 12.9 C4.1 11.6 2.3 11.7 1.3 12.9 C0.3 14.1 0.5 15.8 1.5 17.2 L9.6 27.8 L10.9 30.9 L17.3 30.9 L19.8 28.6 L22.4 30.9 L25.3 30.6 L25.8 27 C27.6 24 29 21 29.5 17 C29.8 14.5 29.8 12.6 29.3 11.3 C28.7 9.8 26.6 9.6 25.7 11 L25.2 13.4 C25.2 11.2 24.9 9.7 23.8 8.9 C22.6 8.1 20.4 8.2 19.6 9.5 L19.3 12.6 C19.2 10.6 19 9.2 18.1 8.4 C16.9 7.4 14.6 7.6 13.8 9 L13.3 12.6 L12.3 6 C11.9 3.5 10.6 0.9 8.5 0.9 Z" fill="#fff" stroke="#111" stroke-width="2" stroke-linejoin="round"/><path d="M14.8 18.4 L14.8 25.8 M18.8 18.4 L18.8 25.8 M22.8 18.4 L22.8 25.8" stroke="#111" stroke-width="1.7" stroke-linecap="butt"/></g></svg>
<div style="position:absolute;left:2304.0px;top:204.0px;width:128.0px;height:56.0px;background:#262626;border-radius:12px;"></div>
<div class="t" style="left:2319.4px;top:223.1px;font-size:19.5px;color:#fff;font-weight:700;letter-spacing:0.54px;">98%</div>
<div class="t" style="left:2369.0px;top:223.1px;font-size:19.5px;color:#e6e6ea;letter-spacing:0.67px;">2 PM</div>
<div style="position:absolute;left:1918.0px;top:714.5px;width:288.0px;height:7.5px;background:#d3d3e0;border-radius:4px 4px 0 0;"></div>
<div style="position:absolute;left:1596.0px;top:754.0px;width:600.0px;height:470.0px;background:#fff;border-radius:12.5px;"></div>
<div class="t" style="left:1618.8px;top:782.8px;font-size:31px;color:#5c5f73;font-weight:700;letter-spacing:0.23px;">Real time network</div>
<svg style="position:absolute;left:1596px;top:754px" width="600" height="470" viewBox="1596 754 600 470"><defs><linearGradient id="arcg" gradientUnits="userSpaceOnUse" x1="1620" y1="0" x2="2172" y2="0"><stop offset="0" stop-color="#cbe96d"/><stop offset="0.5" stop-color="#c4e36a"/><stop offset="1" stop-color="#bcdc65"/></linearGradient></defs>
<path d="M1620.6 1124 A275.5 275.5 0 0 1 2171.4 1124 Q2171.4 1128 2167.4 1128 L2152.9 1128 Q2148.9 1128 2148.9 1124 A253 253 0 0 0 1643.1 1124 Q1643.1 1128 1639.1 1128 L1624.6 1128 Q1620.6 1128 1620.6 1124 Z" fill="url(#arcg)"/></svg>
<div class="t" style="left:1811.3px;top:991.1px;font-size:62px;color:#232323;font-weight:700;letter-spacing:1.85px;">100%</div>
<div style="position:absolute;left:1696.0px;top:1171.6px;width:24.0px;height:24.0px;border-radius:6px;background:linear-gradient(100deg,#f07070,#e65656);"></div>
<div class="t" style="left:1728.9px;top:1173.0px;font-size:23.5px;color:#6f7384;letter-spacing:-0.12px;">&lt;95%</div>
<div style="position:absolute;left:1838.4px;top:1171.6px;width:24.0px;height:24.0px;border-radius:6px;background:linear-gradient(100deg,#f5d26e,#eebf5a);"></div>
<div class="t" style="left:1868.9px;top:1173.0px;font-size:23.5px;color:#6f7384;letter-spacing:0.76px;">95-99%</div>
<div style="position:absolute;left:2002.0px;top:1171.6px;width:24.0px;height:24.0px;border-radius:6px;background:linear-gradient(100deg,#cbe96d,#bcdf62);"></div>
<div class="t" style="left:2034.4px;top:1173.0px;font-size:23.5px;color:#6f7384;letter-spacing:0.04px;">&gt;99%</div>
<div style="position:absolute;left:2228.0px;top:754.0px;width:600.0px;height:470.0px;background:#fff;border-radius:12.5px;"></div>
<div class="t" style="left:2250.6px;top:792.0px;font-size:31px;color:#5c5f73;font-weight:700;letter-spacing:0.34px;">Incidents / Outages</div>
<div style="position:absolute;left:2550.0px;top:790.0px;width:65.5px;height:32.0px;background:#e5484f;border-radius:16.0px;"></div>
<div class="t" style="left:2559.0px;top:797.3px;font-size:19.5px;color:#ffe0e0;">-1%</div>
<svg style="position:absolute;left:2596.2px;top:800.3px" width="9.5" height="13" viewBox="0 0 9.5 13"><path d="M4.75 1 L4.75 11.8 M0.9 7.6 L4.75 11.8 L8.6 7.6" fill="none" stroke="#ffe0e0" stroke-width="1.6" stroke-linecap="round" stroke-linejoin="round"/></svg>
<div style="position:absolute;left:2686.0px;top:778.0px;width:118.0px;height:56.0px;border:1.5px solid #dddde2;border-radius:10px;box-sizing:border-box;background:#fff;"></div>
<div class="t" style="left:2709.1px;top:793.9px;font-size:24px;color:#222;letter-spacing:-0.40px;">Day</div>
<svg style="position:absolute;left:2762px;top:799.5px" width="20" height="13" viewBox="0 0 20 13"><path d="M2 2 L10 10.5 L18 2" fill="none" stroke="#222" stroke-width="2.6" stroke-linecap="round" stroke-linejoin="round"/></svg>
<div class="t" style="left:2251.4px;top:860.5px;font-size:23.5px;color:#999cab;">7</div>
<div class="t" style="left:2251.7px;top:952.9px;font-size:23.5px;color:#999cab;">5</div>
<div class="t" style="left:2251.8px;top:1045.2px;font-size:23.5px;color:#999cab;">3</div>
<div class="t" style="left:2251.8px;top:1137.2px;font-size:23.5px;color:#999cab;">0</div>
<div style="position:absolute;left:2292.0px;top:872.4px;width:104.0px;height:283.6px;border-radius:10px;background:repeating-linear-gradient(47deg,#f7f7f9 0 2.6px,#f0f0f3 2.6px 3.8px,#f7f7f9 3.8px 5.6px);"></div>
<div style="position:absolute;left:2292.0px;top:962.0px;width:104.0px;height:194.0px;border-radius:10px;background:linear-gradient(#94b0be,#788c96);"></div>
<div class="t" style="left:2311.1px;top:1175.2px;font-size:23.5px;color:#999cab;letter-spacing:1.96px;">North</div>
<div style="position:absolute;left:2428.0px;top:872.4px;width:104.0px;height:283.6px;border-radius:10px;background:repeating-linear-gradient(47deg,#f7f7f9 0 2.6px,#f0f0f3 2.6px 3.8px,#f7f7f9 3.8px 5.6px);"></div>
<div style="position:absolute;left:2428.0px;top:1090.0px;width:104.0px;height:66.0px;border-radius:10px;background:linear-gradient(#94b0be,#788c96);"></div>
<div class="t" style="left:2446.9px;top:1175.2px;font-size:23.5px;color:#999cab;letter-spacing:1.28px;">South</div>
<div style="position:absolute;left:2564.0px;top:872.4px;width:104.0px;height:283.6px;border-radius:10px;background:repeating-linear-gradient(47deg,#f7f7f9 0 2.6px,#f0f0f3 2.6px 3.8px,#f7f7f9 3.8px 5.6px);"></div>
<div class="t" style="left:2591.6px;top:1175.2px;font-size:23.5px;color:#999cab;letter-spacing:-0.04px;">East</div>
<div style="position:absolute;left:2700.0px;top:872.4px;width:104.0px;height:283.6px;border-radius:10px;background:repeating-linear-gradient(47deg,#f7f7f9 0 2.6px,#f0f0f3 2.6px 3.8px,#f7f7f9 3.8px 5.6px);"></div>
<div style="position:absolute;left:2700.0px;top:1004.0px;width:104.0px;height:152.0px;border-radius:10px;background:linear-gradient(#94b0be,#788c96);"></div>
<div class="t" style="left:2724.5px;top:1175.2px;font-size:23.5px;color:#999cab;letter-spacing:0.67px;">West</div>
<div style="position:absolute;left:1596.0px;top:1256.0px;width:1235.6px;height:495.6px;background:#fff;border-radius:12.5px;"></div>
<div class="t" style="left:1618.8px;top:1284.4px;font-size:31px;color:#5c5f73;font-weight:700;letter-spacing:-0.06px;">Resource utilization</div>
<div class="t" style="left:1619.6px;top:1348.7px;font-size:23.5px;color:#232323;font-weight:700;letter-spacing:-0.27px;">Communication channels</div>
<div class="t" style="left:1619.3px;top:1398.0px;font-size:23.5px;color:#999cab;letter-spacing:-0.12px;">Channel 1</div>
<div style="position:absolute;left:1746.0px;top:1389.2px;width:110.0px;height:39.6px;background:#adbcc1;border-radius:8px;"></div>
<div style="position:absolute;left:1872.0px;top:1389.2px;width:110.0px;height:39.6px;background:#adbcc1;border-radius:8px;"></div>
<div class="t" style="left:1619.3px;top:1454.0px;font-size:23.5px;color:#999cab;letter-spacing:0.26px;">Channel 2</div>
<div style="position:absolute;left:1746.0px;top:1445.2px;width:110.0px;height:39.6px;background:#adbcc1;border-radius:8px;"></div>
<div style="position:absolute;left:1872.0px;top:1445.2px;width:110.0px;height:39.6px;background:#788b96;border-radius:8px;"></div>
<div class="t" style="left:1619.3px;top:1510.0px;font-size:23.5px;color:#999cab;letter-spacing:0.24px;">Channel 3</div>
<div style="position:absolute;left:1746.0px;top:1501.2px;width:110.0px;height:39.6px;background:#adbcc1;border-radius:8px;"></div>
<div style="position:absolute;left:1872.0px;top:1501.2px;width:110.0px;height:39.6px;background:#adbcc1;border-radius:8px;"></div>
<div class="t" style="left:1619.3px;top:1566.0px;font-size:23.5px;color:#999cab;letter-spacing:0.33px;">Channel 4</div>
<div style="position:absolute;left:1746.0px;top:1557.2px;width:110.0px;height:39.6px;background:#adbcc1;border-radius:8px;"></div>
<div style="position:absolute;left:1872.0px;top:1557.2px;width:110.0px;height:39.6px;background:#adbcc1;border-radius:8px;"></div>
<div class="t" style="left:1750.5px;top:1616.0px;font-size:23.5px;color:#999cab;letter-spacing:0.51px;">Workload</div>
<div class="t" style="left:1870.6px;top:1616.0px;font-size:23.5px;color:#999cab;letter-spacing:0.87px;">Prediction</div>
<div class="t" style="left:2041.9px;top:1348.7px;font-size:23.5px;color:#232323;font-weight:700;letter-spacing:-0.31px;">Servers</div>
<div class="t" style="left:2041.4px;top:1398.0px;font-size:23.5px;color:#999cab;letter-spacing:-0.24px;">Server 1</div>
<div style="position:absolute;left:2150.0px;top:1389.2px;width:110.0px;height:39.6px;background:#adbcc1;border-radius:8px;"></div>
<div style="position:absolute;left:2276.0px;top:1389.2px;width:110.0px;height:39.6px;background:#adbcc1;border-radius:8px;"></div>
<div class="t" style="left:2041.4px;top:1454.0px;font-size:23.5px;color:#999cab;letter-spacing:0.18px;">Server 2</div>
<div style="position:absolute;left:2150.0px;top:1445.2px;width:110.0px;height:39.6px;background:#adbcc1;border-radius:8px;"></div>
<div style="position:absolute;left:2276.0px;top:1445.2px;width:110.0px;height:39.6px;background:#adbcc1;border-radius:8px;"></div>
<div class="t" style="left:2041.4px;top:1510.0px;font-size:23.5px;color:#999cab;letter-spacing:0.17px;">Server 3</div>
<div style="position:absolute;left:2150.0px;top:1501.2px;width:110.0px;height:39.6px;background:#788b96;border-radius:8px;"></div>
<div style="position:absolute;left:2276.0px;top:1501.2px;width:110.0px;height:39.6px;background:#adbcc1;border-radius:8px;"></div>
<div class="t" style="left:2041.4px;top:1566.0px;font-size:23.5px;color:#999cab;letter-spacing:0.26px;">Server 4</div>
<div style="position:absolute;left:2150.0px;top:1557.2px;width:110.0px;height:39.6px;background:#adbcc1;border-radius:8px;"></div>
<div style="position:absolute;left:2276.0px;top:1557.2px;width:110.0px;height:39.6px;background:#adbcc1;border-radius:8px;"></div>
<div class="t" style="left:2154.5px;top:1616.0px;font-size:23.5px;color:#999cab;letter-spacing:0.51px;">Workload</div>
<div class="t" style="left:2274.6px;top:1616.0px;font-size:23.5px;color:#999cab;letter-spacing:0.87px;">Prediction</div>
<div class="t" style="left:2445.0px;top:1348.7px;font-size:23.5px;color:#232323;font-weight:700;letter-spacing:0.65px;">Network traffic</div>
<div class="t" style="left:2445.3px;top:1398.0px;font-size:23.5px;color:#999cab;letter-spacing:-0.12px;">Channel 1</div>
<div style="position:absolute;left:2572.0px;top:1389.2px;width:110.0px;height:39.6px;background:#adbcc1;border-radius:8px;"></div>
<div style="position:absolute;left:2698.0px;top:1389.2px;width:110.0px;height:39.6px;background:#adbcc1;border-radius:8px;"></div>
<div class="t" style="left:2445.3px;top:1454.0px;font-size:23.5px;color:#999cab;letter-spacing:0.26px;">Channel 2</div>
<div style="position:absolute;left:2572.0px;top:1445.2px;width:110.0px;height:39.6px;background:#adbcc1;border-radius:8px;"></div>
<div style="position:absolute;left:2698.0px;top:1445.2px;width:110.0px;height:39.6px;background:#adbcc1;border-radius:8px;"></div>
<div class="t" style="left:2445.3px;top:1510.0px;font-size:23.5px;color:#999cab;letter-spacing:0.24px;">Channel 3</div>
<div style="position:absolute;left:2572.0px;top:1501.2px;width:110.0px;height:39.6px;background:#adbcc1;border-radius:8px;"></div>
<div style="position:absolute;left:2698.0px;top:1501.2px;width:110.0px;height:39.6px;background:#adbcc1;border-radius:8px;"></div>
<div class="t" style="left:2445.3px;top:1566.0px;font-size:23.5px;color:#999cab;letter-spacing:0.33px;">Channel 4</div>
<div style="position:absolute;left:2572.0px;top:1557.2px;width:110.0px;height:39.6px;background:#adbcc1;border-radius:8px;"></div>
<div style="position:absolute;left:2698.0px;top:1557.2px;width:110.0px;height:39.6px;background:#adbcc1;border-radius:8px;"></div>
<div class="t" style="left:2576.5px;top:1616.0px;font-size:23.5px;color:#999cab;letter-spacing:0.51px;">Workload</div>
<div class="t" style="left:2696.6px;top:1616.0px;font-size:23.5px;color:#999cab;letter-spacing:0.87px;">Prediction</div>
<div style="position:absolute;left:1620.0px;top:1668.0px;width:1016.0px;height:60.0px;background:#f0f0f2;border-radius:12px;"></div>
<svg style="position:absolute;left:1637.5px;top:1686.5px" width="23" height="23" viewBox="0 0 23 23"><circle cx="11.5" cy="11.5" r="11.2" fill="#e5484f"/><path d="M11.5 5.6 L11.5 12.6" stroke="#fff" stroke-width="2.4" stroke-linecap="round"/><circle cx="11.5" cy="16.8" r="1.5" fill="#fff"/></svg>
<div class="t" style="left:1668.9px;top:1687.0px;font-size:23.5px;color:#232323;letter-spacing:0.37px;"><b>Server 3</b> is under high load. It is recommended to redistribute traffic to prevent overload.</div>
<div style="position:absolute;left:332.0px;top:1286.0px;width:1231.5px;height:466.0px;background:#fff;border-radius:12.5px;"></div>
<div class="t" style="left:355.3px;top:1323.2px;font-size:31px;color:#5c5f73;font-weight:700;letter-spacing:-0.19px;">Current sales</div>
<div style="position:absolute;left:560.0px;top:1321.7px;width:74.0px;height:32.0px;background:#b5d75b;border-radius:16.0px;"></div>
<div class="t" style="left:570.8px;top:1329.0px;font-size:19.5px;color:#26320c;">+8%</div>
<svg style="position:absolute;left:612.9px;top:1332.0px" width="9.5" height="13" viewBox="0 0 9.5 13"><path d="M4.75 12 L4.75 1.2 M0.9 5.4 L4.75 1.2 L8.6 5.4" fill="none" stroke="#26320c" stroke-width="1.6" stroke-linecap="round" stroke-linejoin="round"/></svg>
<div style="position:absolute;left:1402.0px;top:1310.0px;width:138.0px;height:56.0px;border:1.5px solid #dddde2;border-radius:10px;box-sizing:border-box;background:#fff;"></div>
<div class="t" style="left:1427.0px;top:1325.9px;font-size:24px;color:#222;letter-spacing:-0.69px;">Week</div>
<svg style="position:absolute;left:1498px;top:1331.5px" width="20" height="13" viewBox="0 0 20 13"><path d="M2 2 L10 10.5 L18 2" fill="none" stroke="#222" stroke-width="2.6" stroke-linecap="round" stroke-linejoin="round"/></svg>
<div class="t" style="left:355.6px;top:1394.7px;font-size:40px;color:#232323;font-weight:700;letter-spacing:0.17px;">$85K</div>
<div class="t" style="left:468.8px;top:1407.9px;font-size:24.5px;color:#6f7384;letter-spacing:0.85px;">Net profit</div>
<div style="position:absolute;left:1236.0px;top:1402.0px;width:24.0px;height:24.0px;border-radius:6px;background:linear-gradient(#f7d26f,#e9be55);"></div>
<div class="t" style="left:1266.6px;top:1403.7px;font-size:23.5px;color:#747887;letter-spacing:1.09px;">Income</div>
<div style="position:absolute;left:1398.0px;top:1402.0px;width:24.0px;height:24.0px;border-radius:6px;background:linear-gradient(#dcd9ee,#d2cfe6);"></div>
<div class="t" style="left:1428.8px;top:1403.7px;font-size:23.5px;color:#747887;letter-spacing:0.81px;">Prediction</div>
<div class="t" style="left:356.3px;top:1473.5px;font-size:23.5px;color:#999cab;letter-spacing:0.49px;">$20K</div>
<div class="t" style="left:356.3px;top:1566.0px;font-size:23.5px;color:#999cab;letter-spacing:-0.51px;">$10K</div>
<div class="t" style="left:356.3px;top:1657.5px;font-size:23.5px;color:#999cab;letter-spacing:2.97px;">$0</div>
<div class="t" style="left:481.4px;top:1697.2px;font-size:23.5px;color:#999cab;letter-spacing:0.82px;">Sun</div>
<div class="t" style="left:639.6px;top:1697.2px;font-size:23.5px;color:#999cab;letter-spacing:2.29px;">Mon</div>
<div class="t" style="left:807.3px;top:1697.2px;font-size:23.5px;color:#999cab;letter-spacing:0.16px;">Tue</div>
<div class="t" style="left:964.8px;top:1697.2px;font-size:23.5px;color:#999cab;letter-spacing:1.04px;">Wed</div>
<div class="t" style="left:1130.8px;top:1697.2px;font-size:23.5px;color:#999cab;letter-spacing:0.54px;">Thu</div>
<div class="t" style="left:1298.1px;top:1697.2px;font-size:23.5px;color:#999cab;letter-spacing:1.01px;">Fri</div>
<div class="t" style="left:1456.4px;top:1697.2px;font-size:23.5px;color:#999cab;letter-spacing:0.40px;">Sat</div>
<svg style="position:absolute;left:332px;top:1286px" width="1231" height="466" viewBox="332 1286 1231 466"><defs><linearGradient id="sfill" x1="0" y1="0" x2="0" y2="1"><stop offset="0" stop-color="#f5ecb8" stop-opacity="0.36"/><stop offset="0.5" stop-color="#f8f0cc" stop-opacity="0.2"/><stop offset="1" stop-color="#fbf6e4" stop-opacity="0"/></linearGradient>
<linearGradient id="sstroke" gradientUnits="userSpaceOnUse" x1="440" y1="0" x2="1531" y2="0"><stop offset="0" stop-color="#e9bd52" stop-opacity="0.1"/><stop offset="0.05" stop-color="#e9bd52" stop-opacity="1"/><stop offset="0.95" stop-color="#e9bd52" stop-opacity="1"/><stop offset="1" stop-color="#e9bd52" stop-opacity="0.1"/></linearGradient>
<linearGradient id="sfade" gradientUnits="userSpaceOnUse" x1="440" y1="0" x2="1540" y2="0"><stop offset="0" stop-color="#fff" stop-opacity="0"/><stop offset="0.04" stop-color="#fff" stop-opacity="1"/><stop offset="0.95" stop-color="#fff" stop-opacity="1"/><stop offset="1" stop-color="#fff" stop-opacity="0"/></linearGradient>
<linearGradient id="pstroke" gradientUnits="userSpaceOnUse" x1="444" y1="0" x2="1516" y2="0"><stop offset="0" stop-color="#cccbd8" stop-opacity="0.15"/><stop offset="0.05" stop-color="#cccbd8" stop-opacity="1"/><stop offset="0.95" stop-color="#cccbd8" stop-opacity="1"/><stop offset="1" stop-color="#cccbd8" stop-opacity="0.15"/></linearGradient><mask id="smask"><rect x="432" y="1450" width="1110" height="230" fill="url(#sfade)"/></mask>
<linearGradient id="svline" x1="0" y1="0" x2="0" y2="1"><stop offset="0" stop-color="#2a2a2a"/><stop offset="0.4" stop-color="#555"/><stop offset="1" stop-color="#999" stop-opacity="0"/></linearGradient></defs><line x1="437.5" y1="1483" x2="1540" y2="1483" stroke="#ececef" stroke-width="1" stroke-dasharray="6 6"/><line x1="437.5" y1="1574.5" x2="1540" y2="1574.5" stroke="#ececef" stroke-width="1" stroke-dasharray="6 6"/><line x1="437.5" y1="1666" x2="1540" y2="1666" stroke="#ececef" stroke-width="1" stroke-dasharray="6 6"/><path d="M439.2 1619.4 C448.8 1620.20 458.3 1621.12 467.9 1621.8 C479.1 1622.60 490.3 1623.70 501.5 1623.7 C507.9 1623.70 514.3 1621.73 520.7 1620.3 C535.1 1617.09 549.4 1610.89 563.8 1606.2 C579.8 1600.99 595.7 1595.48 611.7 1590.6 C622.9 1587.18 634.1 1582.88 645.3 1580.8 C651.7 1579.61 658.1 1578.40 664.5 1578.4 C670.9 1578.40 677.2 1579.53 683.6 1580.8 C695.6 1583.19 707.6 1589.00 719.6 1593.0 C735.6 1598.32 751.5 1604.26 767.5 1608.6 C776.3 1610.99 785.1 1613.76 793.9 1615.0 C800.3 1615.90 806.6 1616.30 813.0 1616.3 C819.4 1616.30 825.8 1615.88 832.2 1614.6 C838.6 1613.32 845.0 1611.42 851.4 1608.6 C859.4 1605.08 867.4 1599.40 875.4 1594.2 C891.4 1583.82 907.3 1570.12 923.3 1558.3 C935.3 1549.42 947.3 1539.10 959.3 1531.9 C965.7 1528.08 972.0 1524.60 978.4 1521.8 C982.6 1519.95 986.8 1518.00 991.0 1517.0 C997.7 1515.40 1004.5 1515.40 1011.2 1515.4 C1016.8 1515.40 1022.3 1517.49 1027.9 1518.7 C1043.9 1522.18 1059.9 1527.50 1075.9 1531.9 C1091.9 1536.30 1107.8 1542.03 1123.8 1545.1 C1133.4 1546.95 1143.0 1549.20 1152.6 1549.2 C1159.0 1549.20 1165.3 1548.31 1171.7 1547.5 C1187.7 1545.46 1203.7 1540.19 1219.7 1536.7 C1235.7 1533.22 1251.6 1529.41 1267.6 1526.6 C1275.6 1525.19 1283.6 1523.59 1291.6 1522.8 C1298.0 1522.17 1304.3 1521.80 1310.7 1521.8 C1316.3 1521.80 1321.9 1522.98 1327.5 1524.2 C1339.5 1526.82 1351.5 1533.36 1363.5 1537.9 C1379.5 1543.94 1395.4 1550.12 1411.4 1555.9 C1427.4 1561.68 1443.3 1568.08 1459.3 1572.6 C1467.3 1574.86 1475.3 1577.00 1483.3 1578.6 C1491.3 1580.20 1499.3 1581.00 1507.3 1582.2 C1515.3 1583.40 1523.2 1584.60 1531.2 1585.8 L1531.2 1666 L439.2 1666 Z" fill="url(#sfill)" mask="url(#smask)"/><path d="M444.0 1590.6 C456.0 1587.40 467.9 1583.42 479.9 1581.0 C489.5 1579.06 499.1 1576.70 508.7 1576.7 C519.1 1576.70 529.4 1578.41 539.8 1579.4 C555.8 1580.92 571.8 1582.81 587.8 1584.6 C603.8 1586.38 619.7 1588.96 635.7 1590.1 C643.7 1590.67 651.7 1591.30 659.7 1591.3 C666.1 1591.30 672.4 1591.02 678.8 1589.4 C686.8 1587.36 694.8 1582.21 702.8 1578.6 C720.4 1570.68 737.9 1562.15 755.5 1554.7 C779.5 1544.54 803.4 1535.10 827.4 1527.1 C851.4 1519.10 875.3 1513.17 899.3 1506.7 C919.3 1501.30 939.3 1494.20 959.3 1491.2 C967.5 1489.97 975.8 1488.60 984.0 1488.6 C990.3 1488.60 996.5 1490.53 1002.8 1492.4 C1011.2 1494.89 1019.5 1499.18 1027.9 1503.1 C1043.9 1510.60 1059.9 1519.92 1075.9 1529.5 C1087.9 1536.66 1099.8 1546.39 1111.8 1552.3 C1119.8 1556.25 1127.8 1559.78 1135.8 1561.9 C1143.0 1563.81 1150.2 1565.00 1157.4 1565.0 C1164.6 1565.00 1171.7 1564.11 1178.9 1562.6 C1192.5 1559.73 1206.1 1552.68 1219.7 1546.3 C1235.7 1538.81 1251.6 1527.09 1267.6 1519.9 C1278.0 1515.22 1288.4 1510.22 1298.8 1507.9 C1306.0 1506.30 1313.1 1505.50 1320.3 1505.5 C1326.7 1505.50 1333.1 1506.50 1339.5 1507.5 C1355.5 1509.98 1371.4 1516.44 1387.4 1521.1 C1403.4 1525.77 1419.4 1531.45 1435.4 1535.5 C1443.4 1537.52 1451.3 1539.79 1459.3 1541.0 C1465.7 1541.97 1472.1 1542.70 1478.5 1542.7 C1484.9 1542.70 1491.3 1541.97 1497.7 1541.0 C1503.7 1540.09 1509.7 1538.47 1515.7 1537.2" fill="none" stroke="url(#pstroke)" stroke-width="1.6" stroke-linecap="round"/><path d="M439.2 1619.4 C448.8 1620.20 458.3 1621.12 467.9 1621.8 C479.1 1622.60 490.3 1623.70 501.5 1623.7 C507.9 1623.70 514.3 1621.73 520.7 1620.3 C535.1 1617.09 549.4 1610.89 563.8 1606.2 C579.8 1600.99 595.7 1595.48 611.7 1590.6 C622.9 1587.18 634.1 1582.88 645.3 1580.8 C651.7 1579.61 658.1 1578.40 664.5 1578.4 C670.9 1578.40 677.2 1579.53 683.6 1580.8 C695.6 1583.19 707.6 1589.00 719.6 1593.0 C735.6 1598.32 751.5 1604.26 767.5 1608.6 C776.3 1610.99 785.1 1613.76 793.9 1615.0 C800.3 1615.90 806.6 1616.30 813.0 1616.3 C819.4 1616.30 825.8 1615.88 832.2 1614.6 C838.6 1613.32 845.0 1611.42 851.4 1608.6 C859.4 1605.08 867.4 1599.40 875.4 1594.2 C891.4 1583.82 907.3 1570.12 923.3 1558.3 C935.3 1549.42 947.3 1539.10 959.3 1531.9 C965.7 1528.08 972.0 1524.60 978.4 1521.8 C982.6 1519.95 986.8 1518.00 991.0 1517.0 C997.7 1515.40 1004.5 1515.40 1011.2 1515.4 C1016.8 1515.40 1022.3 1517.49 1027.9 1518.7 C1043.9 1522.18 1059.9 1527.50 1075.9 1531.9 C1091.9 1536.30 1107.8 1542.03 1123.8 1545.1 C1133.4 1546.95 1143.0 1549.20 1152.6 1549.2 C1159.0 1549.20 1165.3 1548.31 1171.7 1547.5 C1187.7 1545.46 1203.7 1540.19 1219.7 1536.7 C1235.7 1533.22 1251.6 1529.41 1267.6 1526.6 C1275.6 1525.19 1283.6 1523.59 1291.6 1522.8 C1298.0 1522.17 1304.3 1521.80 1310.7 1521.8 C1316.3 1521.80 1321.9 1522.98 1327.5 1524.2 C1339.5 1526.82 1351.5 1533.36 1363.5 1537.9 C1379.5 1543.94 1395.4 1550.12 1411.4 1555.9 C1427.4 1561.68 1443.3 1568.08 1459.3 1572.6 C1467.3 1574.86 1475.3 1577.00 1483.3 1578.6 C1491.3 1580.20 1499.3 1581.00 1507.3 1582.2 C1515.3 1583.40 1523.2 1584.60 1531.2 1585.8" fill="none" stroke="url(#sstroke)" stroke-width="5.5" stroke-linecap="round" stroke-linejoin="round"/><rect x="990" y="1452" width="2" height="206" fill="url(#svline)"/><circle cx="991" cy="1491" r="8.4" fill="#fff" stroke="#232323" stroke-width="5.2"/><circle cx="991" cy="1517" r="8.4" fill="#fff" stroke="#232323" stroke-width="5.2"/><g transform="translate(984 1568) scale(1)"><path d="M8.5 0.9 C6.8 0.9 5.9 2.4 6.2 4.2 L8.5 16.6 L5.3 12.9 C4.1 11.6 2.3 11.7 1.3 12.9 C0.3 14.1 0.5 15.8 1.5 17.2 L9.6 27.8 L10.9 30.9 L17.3 30.9 L19.8 28.6 L22.4 30.9 L25.3 30.6 L25.8 27 C27.6 24 29 21 29.5 17 C29.8 14.5 29.8 12.6 29.3 11.3 C28.7 9.8 26.6 9.6 25.7 11 L25.2 13.4 C25.2 11.2 24.9 9.7 23.8 8.9 C22.6 8.1 20.4 8.2 19.6 9.5 L19.3 12.6 C19.2 10.6 19 9.2 18.1 8.4 C16.9 7.4 14.6 7.6 13.8 9 L13.3 12.6 L12.3 6 C11.9 3.5 10.6 0.9 8.5 0.9 Z" fill="#fff" stroke="#111" stroke-width="2" stroke-linejoin="round"/><path d="M14.8 18.4 L14.8 25.8 M18.8 18.4 L18.8 25.8 M22.8 18.4 L22.8 25.8" stroke="#111" stroke-width="1.7" stroke-linecap="butt"/></g></svg>
<div style="position:absolute;left:886.0px;top:1366.0px;width:210.0px;height:88.0px;background:#262626;border-radius:12px;"></div>
<div class="t" style="left:902.2px;top:1386.1px;font-size:19.5px;color:#fff;font-weight:700;letter-spacing:-0.24px;">$16,34K</div>
<div class="t" style="left:982.9px;top:1386.1px;font-size:19.5px;color:#e6dc72;letter-spacing:0.91px;">Income</div>
<div class="t" style="left:902.2px;top:1418.1px;font-size:19.5px;color:#fff;font-weight:700;letter-spacing:-0.33px;">$19, 59K</div>
<div class="t" style="left:987.0px;top:1418.1px;font-size:19.5px;color:#d9d8e6;letter-spacing:0.73px;">Prediction</div>
</body></html>
